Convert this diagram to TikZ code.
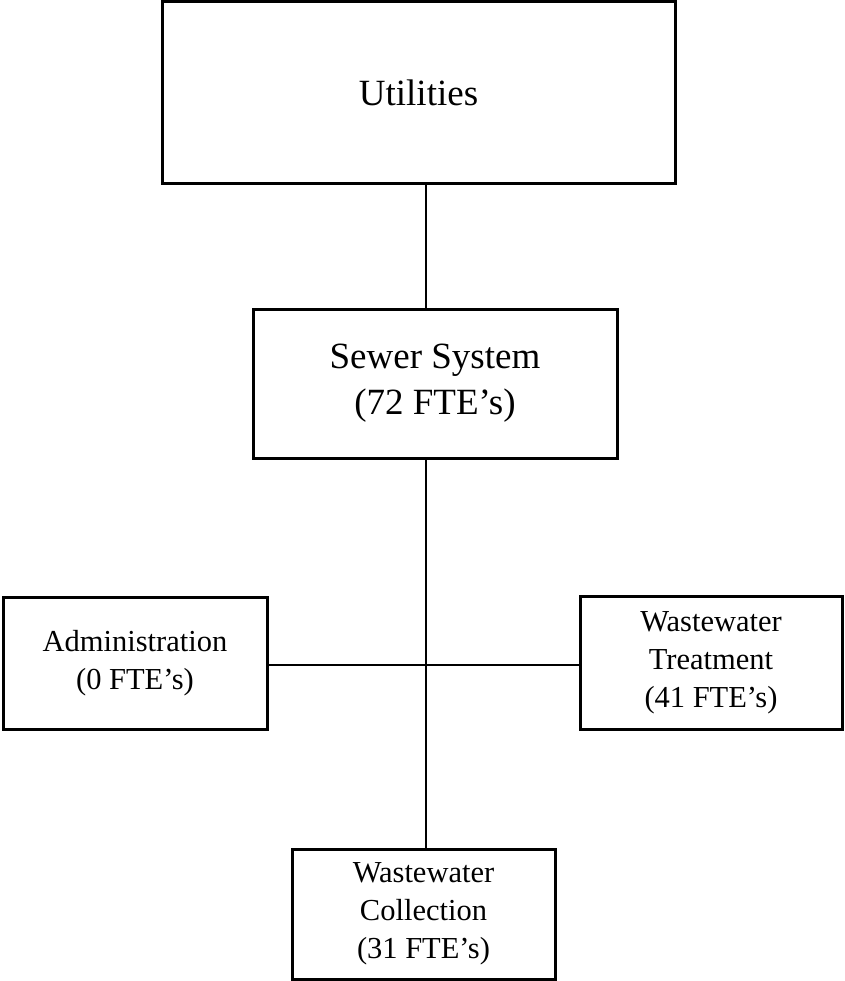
\documentclass[tikz,border=0pt]{standalone}
\usepackage{fontspec}
\setmainfont{Liberation Serif}
\begin{document}
\begin{tikzpicture}[x=1pt,y=-1pt,
  box/.style={draw, line width=3pt, align=center, inner sep=0pt},
  bigtext/.style={font=\fontsize{37}{46}\selectfont},
  smalltext/.style={font=\fontsize{30.5}{38}\selectfont},
  link/.style={line width=2.6pt}]
\useasboundingbox (0,0) rectangle (844,981);
\node[box, bigtext, minimum width=513pt, minimum height=182pt] (util) at (418.5,93) {Utilities};
\node[box, bigtext, minimum width=364pt, minimum height=149pt] (sewer) at (435,383.5) {Sewer System\\(72 FTE’s)};
\node[box, smalltext, minimum width=264pt, minimum height=132pt] (admin) at (135,663) {Administration\\(0 FTE’s)};
\node[box, smalltext, minimum width=262pt, minimum height=133pt] (treat) at (711,662.5) {Wastewater\\Treatment\\(41 FTE’s)};
\node[box, smalltext, minimum width=263pt, minimum height=130pt] (coll) at (423.5,914) {Wastewater\\Collection\\(31 FTE’s)};
\coordinate (hub) at (426,665);
\draw[link] (util.south -| hub) -- (sewer.north -| hub);
\draw[link] (sewer.south -| hub) -- (coll.north -| hub);
\draw[link] (admin.east |- hub) -- (treat.west |- hub);
\end{tikzpicture}
\end{document}
